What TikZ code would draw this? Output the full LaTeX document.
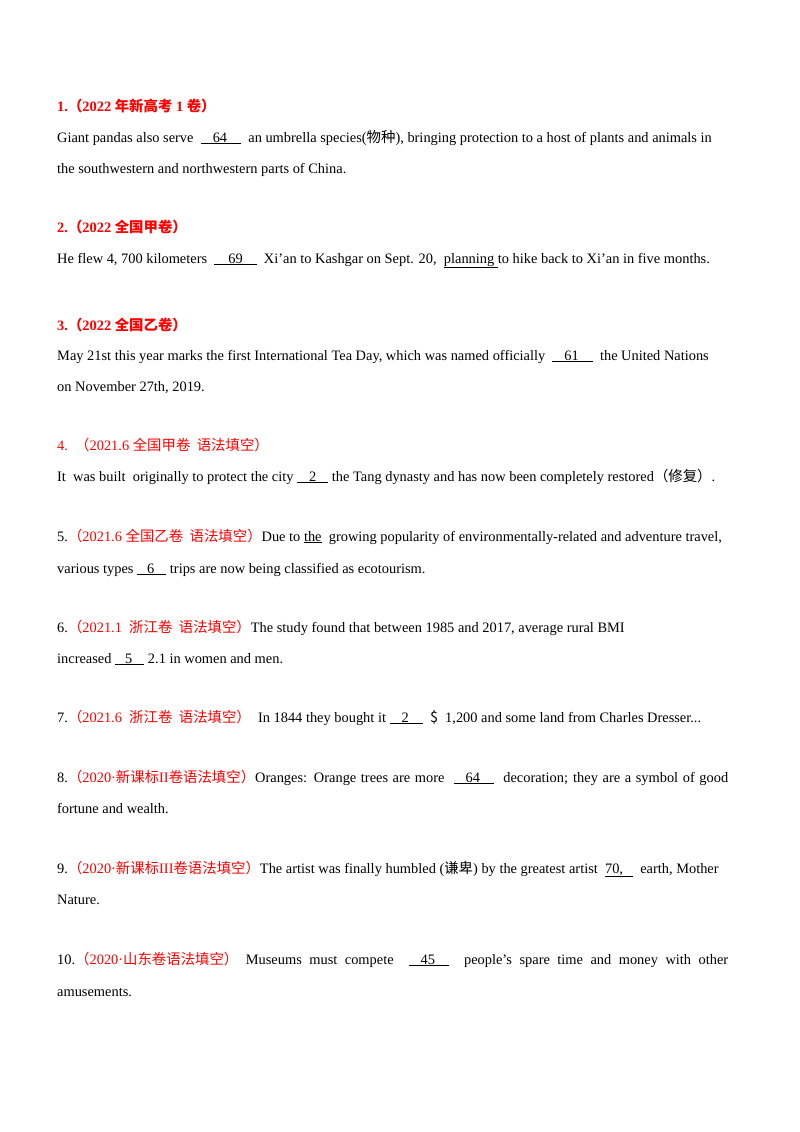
\documentclass[tikz,border=0pt]{standalone}
\usepackage{fontspec}
\setmainfont{Liberation Serif}
\newfontfamily\cjk{Noto Sans CJK SC}
\newcommand{\zh}[1]{{\cjk #1}}
\newcommand{\blk}[1]{\underline{#1}}
\definecolor{hd}{RGB}{255,0,0}
\begin{document}
\begin{tikzpicture}[x=1pt,y=-1pt,
  t/.style={anchor=base west,inner sep=0pt,font=\fontsize{14.4}{17}\selectfont},
  h/.style={t,text=hd,font=\fontsize{14.4}{17}\selectfont\bfseries}]
\useasboundingbox (0,0) rectangle (800,1132);
\fill[white] (0,0) rectangle (800,1132);
\node[h] (h1) at (57,111) {1.\zh{（}2022 \zh{年新高考} 1 \zh{卷）}};
\node[t] (l1a) at (57,142) {Giant pandas also serve \ \blk{\hspace{12pt}64\hspace{14pt}}\ \ an umbrella species(\zh{物种}), bringing protection to a host of plants and animals in};
\node[t] (l1b) at (57,173) {the southwestern and northwestern parts of China.};
\node[h] (h2) at (57,232) {2.\zh{（}2022 \zh{全国甲卷）}};
\node[t] (l2) at (57,263) {He flew 4, 700 kilometers \ \blk{\hspace{14pt}69\hspace{14pt}}\ \ Xi’an to Kashgar on Sept. 20, \ \blk{planning\ }to hike back to Xi’an in five months.};
\node[h] (h3) at (57,330) {3.\zh{（}2022 \zh{全国乙卷）}};
\node[t] (l3a) at (57,360) {May 21st this year marks the first International Tea Day, which was named officially \ \blk{\hspace{12pt}61\hspace{14pt}}\ \ the United Nations};
\node[t] (l3b) at (57,391) {on November 27th, 2019.};
\node[t,text=hd] (h4) at (57,450) {4.\ \ \zh{（}2021.6 \zh{全国甲卷\ \ 语法填空）}};
\node[t] (l4) at (57,481) {It \ was built \ originally to protect the city \blk{\hspace{12pt}2\hspace{12pt}} the Tang dynasty and has now been completely restored\zh{（修复）}.};
\node[t] (l5a) at (57,541) {5.{\color{hd}\zh{（}2021.6 \zh{全国乙卷\ \ 语法填空）}}Due to \blk{the} \ growing popularity of environmentally-related and adventure travel,};
\node[t] (l5b) at (57,573) {various types \blk{\hspace{10pt}6\hspace{12pt}} trips are now being classified as ecotourism.};
\node[t] (l6a) at (57,632) {6.{\color{hd}\zh{（}2021.1 \ \zh{浙江卷\ \ 语法填空）}}The study found that between 1985 and 2017, average rural BMI};
\node[t] (l6b) at (57,663) {increased \blk{\hspace{10pt}5\hspace{12pt}} 2.1 in women and men.};
\node[t] (l7) at (57,722) {7.{\color{hd}\zh{（}2021.6 \ \zh{浙江卷\ \ 语法填空）}}\ \ In 1844 they bought it \blk{\hspace{12pt}2\hspace{14pt}}\ \ \zh{\$}\ \ 1,200 and some land from Charles Dresser...};
\node[t] (l8a) at (57,782) {\makebox[671pt][s]{8.{\color{hd}\zh{（}2020·\zh{新课标}II\zh{卷语法填空）}}Oranges: Orange trees are more \ \blk{\hspace{12pt}64\hspace{14pt}} \ decoration; they are a symbol of good}};
\node[t] (l8b) at (57,813) {fortune and wealth.};
\node[t] (l9a) at (57,873) {9.{\color{hd}\zh{（}2020·\zh{新课标}III\zh{卷语法填空）}}The artist was finally humbled (\zh{谦卑}) by the greatest artist \ \blk{70,\hspace{10pt}}\ \ earth, Mother};
\node[t] (l9b) at (57,904) {Nature.};
\node[t] (l10a) at (57,964) {\makebox[671pt][s]{10.{\color{hd}\zh{（}2020·\zh{山东卷语法填空）}} Museums must compete \ \blk{\hspace{12pt}45\hspace{14pt}} \ people’s spare time and money with other}};
\node[t] (l10b) at (57,996) {amusements.};
\end{tikzpicture}
\end{document}
